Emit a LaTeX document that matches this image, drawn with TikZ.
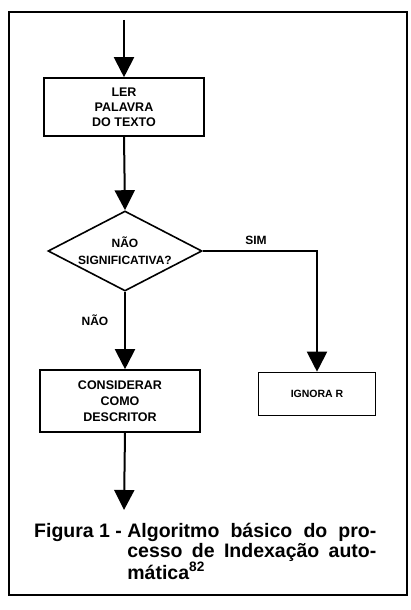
\documentclass[tikz,border=0pt]{standalone}
\usepackage{fontspec}
\setmainfont{Liberation Sans}
\usetikzlibrary{shapes.geometric,arrows.meta,positioning,calc}

\begin{document}
\begin{tikzpicture}[x=1pt, y=-1pt,
    stepbox/.style={rectangle, draw=black, line width=1.6pt, align=center, font=\bfseries\fontsize{12.5}{15}\selectfont},
    decision/.style={diamond, draw=black, line width=1.6pt, align=center, inner sep=0pt, aspect=1.9, minimum width=154pt, minimum height=80pt, font=\bfseries\fontsize{12}{17}\selectfont},
    tag/.style={font=\bfseries\fontsize{12}{14}\selectfont},
    arrow/.style={-{Triangle[width=20pt,length=20pt]}, line width=2pt}
]
    \useasboundingbox (0,0) rectangle (410,610);
    % Frame
    \draw[line width=2pt] (9,12) rectangle (407,595);

    % Flowchart
    \coordinate (in) at (124,20);
    \node[stepbox, minimum width=160pt, minimum height=58pt] (ler) at (124,107) {LER\\PALAVRA\\DO TEXTO};
    \node[decision] (sig) at (125,251) {NÃO\\SIGNIFICATIVA?};
    \node[stepbox, minimum width=160pt, minimum height=62pt, font=\bfseries\fontsize{12.5}{16}\selectfont] (cons) at (120,401) {CONSIDERAR\\COMO\\DESCRITOR};
    \node[stepbox, minimum width=117pt, minimum height=43pt, font=\bfseries\fontsize{10.5}{12}\selectfont] (ign) at (317,394) {IGNORA R};
    \coordinate (out) at (124,510);

    \draw[arrow] (in) -- (ler.north);
    \draw[arrow] (ler.south) -- (sig.north);
    \draw[arrow] (sig.south) -- (sig.south |- cons.north);
    \draw[arrow] (sig.east) -| (ign.north);
    \draw[arrow] (sig.south |- cons.south) -- (out);

    \node[tag] (sim) at (256,240) {SIM};
    \node[tag] (nao) at (95,320) {NÃO};

    % Caption
    \node[anchor=base west, inner sep=0pt, font=\bfseries\fontsize{19.5}{20}\selectfont] (cap) at (34,537)
        {Figura 1 - \parbox[t]{249pt}{Algoritmo básico do pro-\linebreak cesso de Indexação auto-\linebreak mática\textsuperscript{82}}};
\end{tikzpicture}
\end{document}
